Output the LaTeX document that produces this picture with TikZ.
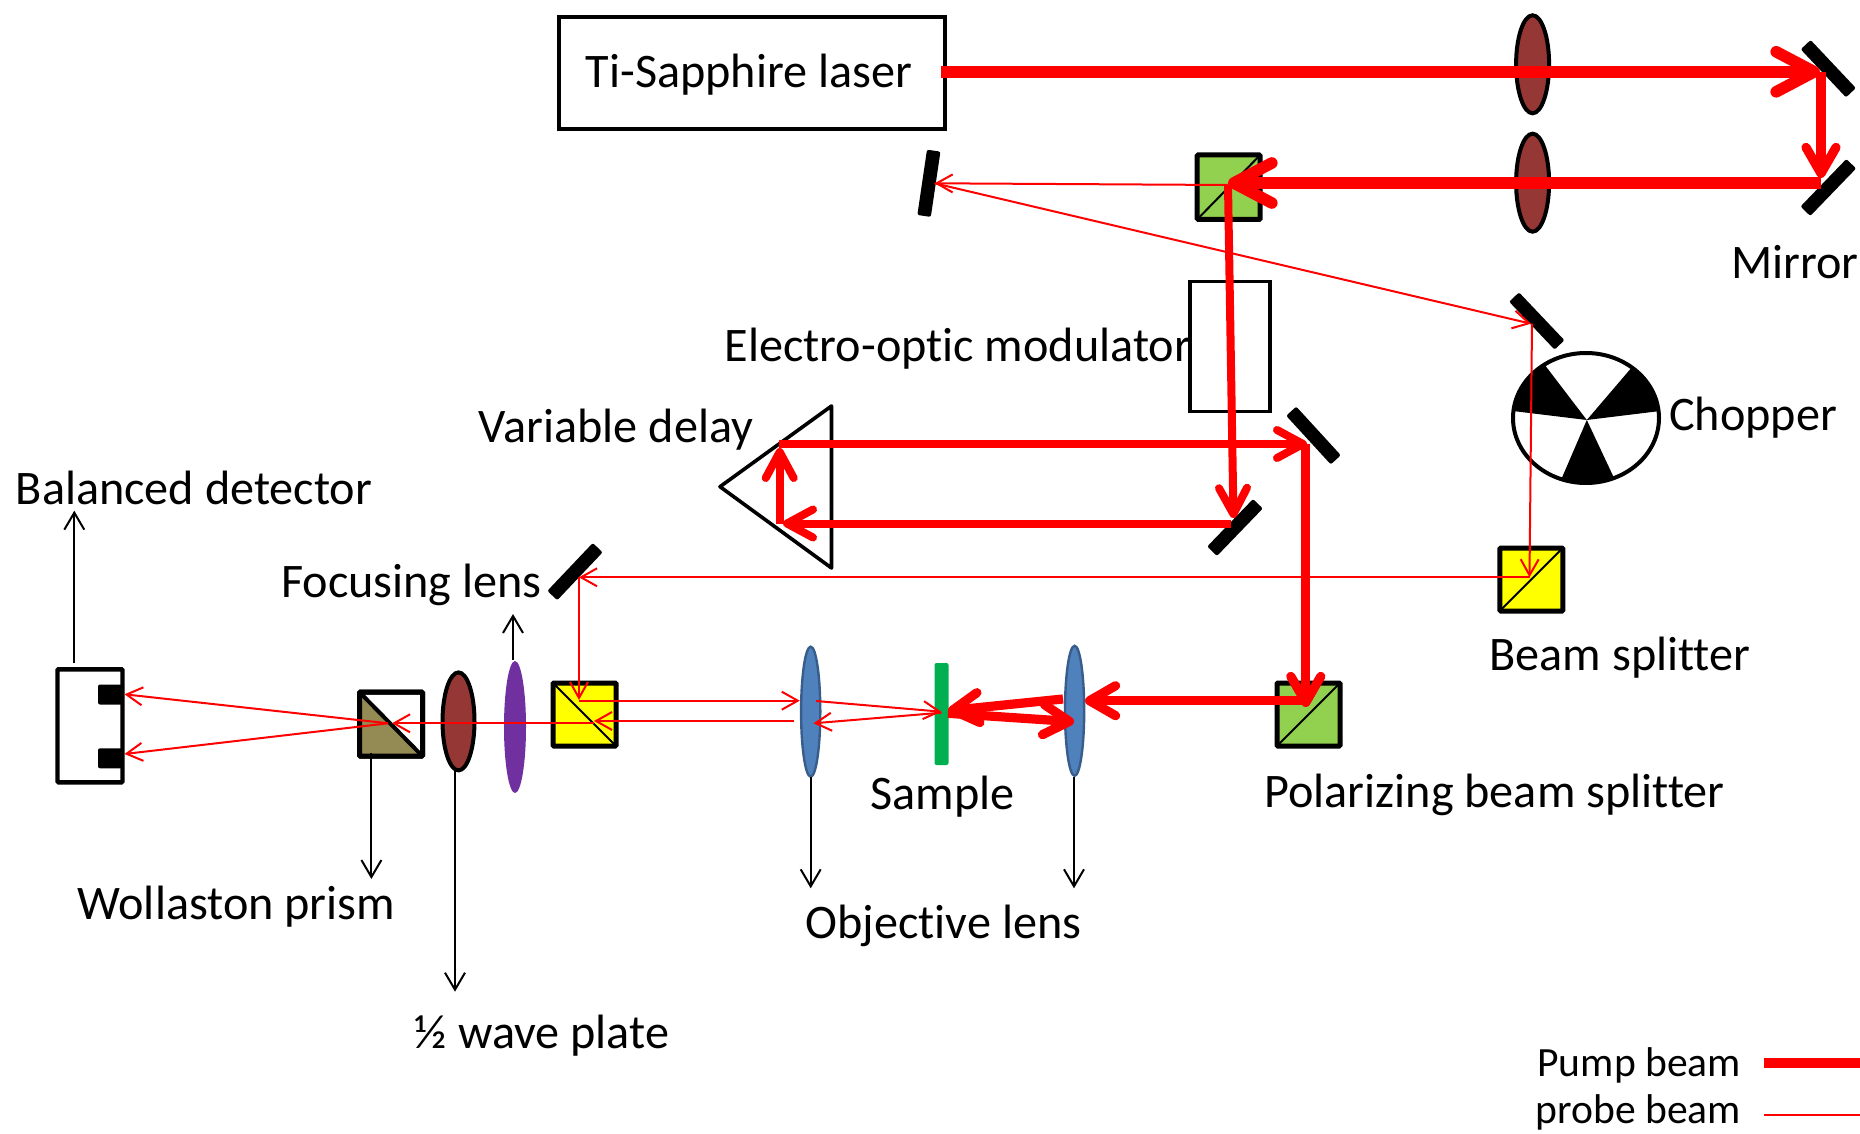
\documentclass[tikz,border=0pt]{standalone}
\usepackage{fontspec}
\setmainfont[Ligatures=NoCommon]{Carlito}
\usetikzlibrary{arrows.meta,shapes.geometric}
\definecolor{beamred}{HTML}{FF0000}
\definecolor{lensbrown}{HTML}{953735}
\definecolor{cubegreen}{HTML}{92D050}
\definecolor{cubeyellow}{HTML}{FFFF00}
\definecolor{prismolive}{HTML}{948A54}
\definecolor{lenspurple}{HTML}{7030A0}
\definecolor{lensblue}{HTML}{4F81BD}
\definecolor{lensblueedge}{HTML}{385D8A}
\definecolor{samplegreen}{HTML}{00B050}
\tikzset{
  x=0.5pt,y=-0.5pt,
  txt/.style={inner sep=0pt,outer sep=0pt,font=\fontsize{24.1}{27}\selectfont,anchor=mid},
  legendtxt/.style={inner sep=0pt,outer sep=0pt,font=\fontsize{20.8}{23}\selectfont,anchor=mid east},
  mirror/.style={rectangle,fill=black,rounded corners=1pt,minimum width=33pt,minimum height=6.8pt,inner sep=0pt,outer sep=0pt},
  cube/.style={rectangle,draw=black,line width=2.5pt,rounded corners=.5pt,inner sep=0pt,outer sep=0pt},
  lens/.style={ellipse,inner sep=0pt,outer sep=0pt},
  pumpbig/.style={draw=beamred,line width=5.8pt,-{Straight Barb[length=19pt,width=20pt,round]}},
  pumpmid/.style={draw=beamred,line width=4.6pt,-{Straight Barb[length=13pt,width=15pt,round]}},
  pumpthin/.style={draw=beamred,line width=4pt,-{Straight Barb[length=13pt,width=14pt,round]}},
  probe/.style={draw=beamred,line width=1pt,-{Straight Barb[length=8pt,width=9pt]}},
  probeplain/.style={draw=beamred,line width=1pt},
  labelarrow/.style={draw=black,line width=1pt,-{Straight Barb[length=8.5pt,width=10pt]}}
}
\begin{document}
\begin{tikzpicture}
\useasboundingbox (0,0) rectangle (1860,1134);
% named points
\coordinate (laserout) at (941,71.8);
\coordinate (hit1) at (1820,71.8);
\coordinate (beamdown1) at (1821,71.8);
\coordinate (hit2) at (1821,178);
\coordinate (hit2b) at (1821,183);
\coordinate (pbsA) at (1228,183);
\coordinate (pbsAb) at (1228,185);
\coordinate (hit7top) at (1233.5,518);
\coordinate (hit7) at (1231,523.5);
\coordinate (delayB) at (783,523.5);
\coordinate (delayBup) at (779.7,523.5);
\coordinate (delayT) at (779.7,448);
\coordinate (delayTr) at (779,444);
\coordinate (hit6) at (1307,444);
\coordinate (hit6d) at (1305.8,444);
\coordinate (pbsBtop) at (1305.8,707);
\coordinate (pbsB) at (1307,700.7);
\coordinate (lensRin) at (1085,700.7);
\coordinate (lensRa) at (1063,699);
\coordinate (sampleP) at (948,710.7);
\coordinate (samplePb) at (948,713.3);
\coordinate (lensRb) at (1074,721.7);
\coordinate (hit3) at (934.6,183.3);
\coordinate (hit3b) at (934.6,183.3);
\coordinate (hit4) at (1531,323.7);
\coordinate (hit4d) at (1532,323.7);
\coordinate (bs1) at (1529.5,577.3);
\coordinate (hit5) at (579,577.3);
\coordinate (bs2top) at (579,700);
\coordinate (bs2a) at (579,700.7);
\coordinate (lensLin) at (799.8,700.7);
\coordinate (lensLa) at (816,701);
\coordinate (sampleQ) at (941.3,711.7);
\coordinate (sampleQb) at (941.3,712.7);
\coordinate (lensLb) at (813.5,723.3);
\coordinate (lensLc) at (794,721);
\coordinate (bs2b) at (594,721);
\coordinate (bs2c) at (594,723.3);
\coordinate (wolin) at (392,723.3);
\coordinate (wolo) at (388,723.3);
\coordinate (det1) at (124.5,694.3);
\coordinate (det2) at (124.5,754);
\coordinate (prismA) at (831.5,406);
\coordinate (prismB) at (720,486.7);
\coordinate (prismC) at (831.5,568);
% laser and modulator
\node[draw=black,line width=2pt,minimum width=193pt,minimum height=56pt,inner sep=0pt,outer sep=0pt] (laser) at (752,73) {};
\node[draw=black,line width=1.8pt,minimum width=40pt,minimum height=65pt,inner sep=0pt,outer sep=0pt] (eom) at (1230,346.5) {};
% lenses
\node[lens,draw=black,line width=2pt,fill=lensbrown,minimum width=16.5pt,minimum height=49pt] (lensA) at (1532.6,64.3) {};
\node[lens,draw=black,line width=2pt,fill=lensbrown,minimum width=16.5pt,minimum height=49pt] (lensB) at (1532.6,182.7) {};
\node[lens,draw=black,line width=2pt,fill=lensbrown,minimum width=16pt,minimum height=49pt] (hwp) at (458.5,721.4) {};
\node[lens,fill=lenspurple,minimum width=11pt,minimum height=66pt] (focus) at (515,727) {};
\node[lens,draw=lensblueedge,line width=1.2pt,fill=lensblue,minimum width=9.6pt,minimum height=65pt] (objL) at (810.7,711.7) {};
\node[lens,draw=lensblueedge,line width=1.2pt,fill=lensblue,minimum width=9.6pt,minimum height=65pt] (objR) at (1074.6,710.8) {};
% mirrors
\node[mirror,rotate=-46.7] (m1) at (1828.3,68.7) {};
\node[mirror,rotate=46] (m2) at (1828.3,187.5) {};
\node[mirror,rotate=81.6] (m3) at (928.9,183.3) {};
\node[mirror,rotate=-46.5] (m4) at (1536.8,321) {};
\node[mirror,rotate=46.5] (m5) at (575,571.6) {};
\node[mirror,rotate=-47.5] (m6) at (1313.5,435.5) {};
\node[mirror,rotate=46] (m7) at (1235,527.5) {};
% cubes
\node[cube,fill=cubegreen,minimum width=31.5pt,minimum height=32.2pt] (pbsTop) at (1228.7,187.2) {};
\draw[black,line width=1pt] (pbsTop.south west) -- (pbsTop.north east);
\node[cube,fill=cubeyellow,minimum width=31.5pt,minimum height=31.5pt] (bsTop) at (1531.3,579.5) {};
\draw[black,line width=1pt] (bsTop.south west) -- (bsTop.north east);
\node[cube,fill=cubeyellow,minimum width=31.5pt,minimum height=31.5pt] (bsLow) at (584.5,714.5) {};
\draw[black,line width=1pt] (bsLow.north west) -- (bsLow.south east);
\node[cube,fill=cubegreen,minimum width=31.5pt,minimum height=31.5pt] (pbsLow) at (1308.5,714.5) {};
\draw[black,line width=1pt] (pbsLow.south west) -- (pbsLow.north east);
\node[cube,fill=white,minimum width=31.5pt,minimum height=32pt] (woll) at (391,724.2) {};
\fill[prismolive] (woll.north west) -- (woll.south east) -- (woll.south west) -- cycle;
\draw[black,line width=2pt] (woll.north west) -- (woll.south east);
\draw[black,line width=2.5pt,rounded corners=.5pt] (woll.north west) rectangle (woll.south east);
% sample
\node[rectangle,fill=samplegreen,rounded corners=1pt,minimum width=7pt,minimum height=51pt,inner sep=0pt,outer sep=0pt] (sample) at (941.5,714) {};
% detector
\node[draw=black,line width=2.2pt,rounded corners=.5pt,minimum width=32.5pt,minimum height=56.5pt,inner sep=0pt,outer sep=0pt] (detector) at (90,725.8) {};
\node[rectangle,fill=black,rounded corners=1pt,minimum width=12.6pt,minimum height=10pt,inner sep=0pt,outer sep=0pt] (cellA) at (110.6,694.5) {};
\node[rectangle,fill=black,rounded corners=1pt,minimum width=12.6pt,minimum height=10pt,inner sep=0pt,outer sep=0pt] (cellB) at (110.6,758.3) {};
% delay prism
\draw[black,line width=1.8pt,line join=round] (prismA) -- (prismB) -- (prismC) -- cycle;
% chopper
\begin{scope}
\clip (1586,418) ellipse [x radius=73,y radius=65];
\fill[black] (1586.8,420) -- (1533.2,349.8) -- (1494.8,349.8) -- (1494.8,408.8) -- cycle;
\fill[black] (1586.8,420) -- (1646.8,349.8) -- (1678.1,349.8) -- (1678.1,408.8) -- cycle;
\fill[black] (1586.8,420) -- (1555.8,492) -- (1620.6,492) -- cycle;
\end{scope}
\node[lens,draw=black,line width=2pt,minimum width=73pt,minimum height=65pt] (chopper) at (1586,418) {};
% pump beam
\draw[pumpbig] (laserout) -- (hit1);
\draw[pumpmid] (beamdown1) -- (hit2);
\draw[pumpbig] (hit2b) -- (pbsA);
\draw[pumpthin] (pbsAb) -- (hit7top);
\draw[pumpthin] (hit7) -- (delayB);
\draw[pumpthin] (delayBup) -- (delayT);
\draw[pumpthin] (delayTr) -- (hit6);
\draw[pumpmid] (hit6d) -- (pbsBtop);
\draw[pumpmid] (pbsB) -- (lensRin);
\draw[pumpmid] (lensRa) -- (sampleP);
\draw[pumpmid] (samplePb) -- (lensRb);
% probe beam
\draw[probe] (pbsAb) -- (hit3);
\draw[probe] (hit3b) -- (hit4);
\draw[probe] (hit4d) -- (bs1);
\draw[probe] (bs1) -- (hit5);
\draw[probe] (hit5) -- (bs2top);
\draw[probe] (bs2a) -- (lensLin);
\draw[probe] (lensLa) -- (sampleQ);
\draw[probe] (sampleQb) -- (lensLb);
\draw[probe] (lensLc) -- (bs2b);
\draw[probe] (bs2c) -- (wolin);
\draw[probe] (wolo) -- (det1);
\draw[probe] (wolo) -- (det2);
% label arrows
\coordinate (tipDet) at (74.3,510.7);
\coordinate (tailDet) at (74.3,663.3);
\coordinate (tipFocus) at (513,614);
\coordinate (tailFocus) at (513,660);
\coordinate (tipWoll) at (371.4,879);
\coordinate (tailWoll) at (371.4,753);
\coordinate (tipHwp) at (455,991.7);
\coordinate (tailHwp) at (455,770.7);
\coordinate (tipObjL) at (810.7,888.3);
\coordinate (tailObjL) at (810.7,777.3);
\coordinate (tipObjR) at (1074,888.3);
\coordinate (tailObjR) at (1074,776.7);
\draw[labelarrow] (tailDet) -- (tipDet);
\draw[labelarrow] (tailFocus) -- (tipFocus);
\draw[labelarrow] (tailWoll) -- (tipWoll);
\draw[labelarrow] (tailHwp) -- (tipHwp);
\draw[labelarrow] (tailObjL) -- (tipObjL);
\draw[labelarrow] (tailObjR) -- (tipObjR);
% labels
\node[txt] (tLaser) at (749,83) {Ti-Sapphire laser};
\node[txt] (tMirror) at (1795,274) {Mirror};
\node[txt] (tEom) at (958,357) {Electro-optic modulator};
\node[txt] (tChopper) at (1753,426) {Chopper};
\node[txt] (tDelay) at (616,438) {Variable delay};
\node[txt] (tDet) at (194,500) {Balanced detector};
\node[txt] (tFocus) at (411.5,593) {Focusing lens};
\node[txt] (tBs) at (1620,666) {Beam splitter};
\node[txt] (tSample) at (942.5,805) {Sample};
\node[txt] (tPbs) at (1494.5,803) {Polarizing beam splitter};
\node[txt] (tWoll) at (236.5,915) {Wollaston prism};
\node[txt] (tObj) at (943.5,934) {Objective lens};
\node[txt] (tHwp) at (542,1044) {½ wave plate};
% legend
\node[legendtxt] (tPump) at (1741,1072) {Pump beam};
\node[legendtxt] (tProbe) at (1741,1119) {probe beam};
\coordinate (legA) at (1764,1063);
\coordinate (legB) at (1860,1063);
\coordinate (legC) at (1764,1115);
\coordinate (legD) at (1860,1115);
\draw[draw=beamred,line width=5pt] (legA) -- (legB);
\draw[probeplain] (legC) -- (legD);
\end{tikzpicture}
\end{document}
